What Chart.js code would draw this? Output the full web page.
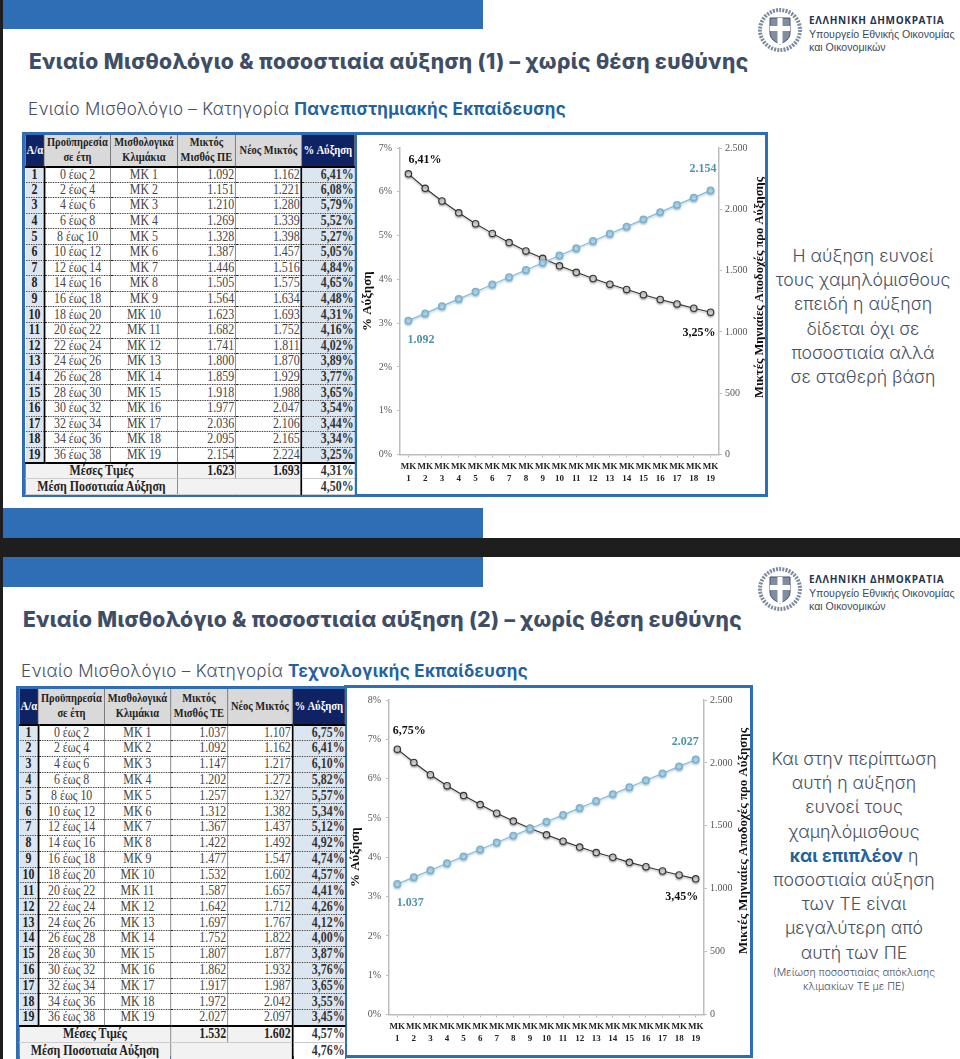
<!DOCTYPE html>
<html lang="el">
<head>
<meta charset="utf-8">
<script src="https://cdn.jsdelivr.net/npm/chart.js@4"></script>
<style>
html,body{margin:0;padding:0;background:#fff;width:960px;height:1059px;overflow:hidden}
body{position:relative;font-family:Inter,"Noto Sans",sans-serif}
.abs{position:absolute}
.bar{position:absolute;background:#2f6db5}
.title{position:absolute;font:800 21px/26px Inter,sans-serif;color:#3e4e66;white-space:nowrap}
.sub{position:absolute;font:300 17px/22px Inter,sans-serif;color:#46505f;white-space:nowrap}
.sub b{font-weight:700;color:#23619f}
.side{position:absolute;font:300 17.7px/24.2px Inter,sans-serif;color:#48525f;text-align:center;white-space:nowrap;transform:translateX(-50%)}
.side b{font-weight:700;color:#23619f}
.side small{display:block;font-size:10.5px;line-height:14px;margin-top:1px}
.box{position:absolute;box-sizing:border-box;border:3px solid #2f6db5;background:#fff}
table{position:absolute;border-collapse:collapse;table-layout:fixed;font:14px/1 "Liberation Serif",serif;color:#444;transform:scaleX(.85);transform-origin:0 0}
td,th{padding:0;overflow:hidden;white-space:nowrap}
th{font-weight:700;font-size:12.3px;line-height:15px;background:#d9d9d9;color:#222;border-left:1px solid #666;border-right:1px solid #666;border-bottom:2px solid #000}
th.dk{background:#0f2263;color:#fff;font-size:12.6px}
td{border-bottom:1px dotted #222;border-left:1px solid #777;border-right:1px solid #777;text-align:center}
td.n{text-align:right;padding-right:1px}
td.a{background:#dce6f1;font-weight:700;border-left:none;border-right:2px solid #000;color:#222}
td.p{background:#dce6f1;font-weight:700;text-align:right;padding-right:1px;border-left:2px solid #000;border-right:none;color:#333}
tr.last td{border-bottom:2px solid #000}
tr.sum td{background:#f2f2f2;font-weight:700;border-bottom:1px solid #ccc;color:#222}
tr.sum td.p{background:#fff;font-weight:700;color:#333}
canvas{position:absolute;display:block}
.logo{position:absolute;width:200px;height:48px}
.logo .h{position:absolute;left:52px;top:1px;font:700 10px/12px "Open Sans",sans-serif;letter-spacing:.7px;color:#1f3550;white-space:nowrap}
.logo .m{position:absolute;left:52px;top:15px;font:400 10.6px/12.5px "Liberation Sans",sans-serif;color:#3c4a5c;white-space:nowrap}
.logo svg{position:absolute;left:0;top:-6px}
</style>
</head>
<body>
<div class="abs" style="left:0;top:0;width:3px;height:1059px;background:#1e1e1e"></div>
<div class="bar" style="left:3px;top:0;width:480px;height:29px"></div>
<div class="bar" style="left:3px;top:508px;width:480px;height:30px"></div>
<div class="abs" style="left:0;top:538px;width:960px;height:19px;background:#1e1e1e"></div>
<div class="bar" style="left:3px;top:557px;width:480px;height:30px"></div>

<div class="title" data-w="719" style="left:29px;top:49px">Ενιαίο Μισθολόγιο &amp; ποσοστιαία αύξηση (1) – χωρίς θέση ευθύνης</div>
<div class="sub" data-w="538" style="left:28px;top:98px">Ενιαίο Μισθολόγιο – Κατηγορία <b>Πανεπιστημιακής Εκπαίδευσης</b></div>
<div class="title" data-w="719" style="left:23px;top:607px">Ενιαίο Μισθολόγιο &amp; ποσοστιαία αύξηση (2) – χωρίς θέση ευθύνης</div>
<div class="sub" data-w="507" style="left:21px;top:660px">Ενιαίο Μισθολόγιο – Κατηγορία <b>Τεχνολογικής Εκπαίδευσης</b></div>

<div class="logo" style="left:757px;top:13px" id="logo1"></div>
<div class="logo" style="left:757px;top:572px" id="logo2"></div>

<div class="box" style="left:22px;top:132px;width:334px;height:365px"></div>
<div class="box" style="left:354px;top:132px;width:414px;height:365px"></div>
<div class="box" style="left:16px;top:686px;width:330px;height:373px"></div>
<div class="box" style="left:344px;top:685px;width:409px;height:373px"></div>

<table id="t1" style="left:25px;top:135px"></table>
<table id="t2" style="left:19px;top:689px"></table>

<canvas id="c1" width="407" height="359" style="left:358px;top:135px"></canvas>
<canvas id="c2" width="402" height="368" style="left:348px;top:688px"></canvas>

<div class="side" style="left:863px;top:244px">Η αύξηση ευνοεί<br>τους χαμηλόμισθους<br>επειδή η αύξηση<br>δίδεται όχι σε<br>ποσοστιαία αλλά<br>σε σταθερή βάση</div>
<div class="side" style="left:854px;top:747px">Και στην περίπτωση<br>αυτή η αύξηση<br>ευνοεί τους<br>χαμηλόμισθους<br><b>και επιπλέον</b> η<br>ποσοστιαία αύξηση<br>των ΤΕ είναι<br>μεγαλύτερη από<br>αυτή των ΠΕ<small>(Μείωση ποσοστιαίας απόκλισης<br>κλιμακίων ΤΕ με ΠΕ)</small></div>

<script>
const categories = [["ΜΚ","1"],["ΜΚ","2"],["ΜΚ","3"],["ΜΚ","4"],["ΜΚ","5"],["ΜΚ","6"],["ΜΚ","7"],["ΜΚ","8"],["ΜΚ","9"],["ΜΚ","10"],["ΜΚ","11"],["ΜΚ","12"],["ΜΚ","13"],["ΜΚ","14"],["ΜΚ","15"],["ΜΚ","16"],["ΜΚ","17"],["ΜΚ","18"],["ΜΚ","19"]];
const serviceYears = ["0 έως 2","2 έως 4","4 έως 6","6 έως 8","8 έως 10","10 έως 12","12 έως 14","14 έως 16","16 έως 18","18 έως 20","20 έως 22","22 έως 24","24 έως 26","26 έως 28","28 έως 30","30 έως 32","32 έως 34","34 έως 36","36 έως 38"];

const salaryPE = [1092,1151,1210,1269,1328,1387,1446,1505,1564,1623,1682,1741,1800,1859,1918,1977,2036,2095,2154];
const newSalaryPE = [1162,1221,1280,1339,1398,1457,1516,1575,1634,1693,1752,1811,1870,1929,1988,2047,2106,2165,2224];
const raisePE = [6.41,6.08,5.79,5.52,5.27,5.05,4.84,4.65,4.48,4.31,4.16,4.02,3.89,3.77,3.65,3.54,3.44,3.34,3.25];

const salaryTE = [1037,1092,1147,1202,1257,1312,1367,1422,1477,1532,1587,1642,1697,1752,1807,1862,1917,1972,2027];
const newSalaryTE = [1107,1162,1217,1272,1327,1382,1437,1492,1547,1602,1657,1712,1767,1822,1877,1932,1987,2042,2097];
const raiseTE = [6.75,6.41,6.10,5.82,5.57,5.34,5.12,4.92,4.74,4.57,4.41,4.26,4.12,4.00,3.87,3.76,3.65,3.55,3.45];

const th = v => String(v).replace(/\B(?=(\d{3})+$)/g, '.');
const pc = v => v.toFixed(2).replace('.', ',') + '%';

function buildTable(id, cols, headH, rowH, sumH, salaryHead, sal, nw, rs, avg, avgRaise) {
  const sx = 0.85, t = document.getElementById(id);
  t.style.width = (cols.reduce((a, b) => a + b, 0) / sx) + 'px';
  let h = '<colgroup>' + cols.map(c => `<col style="width:${c / sx}px">`).join('') + '</colgroup>';
  h += `<tr style="height:${headH}px"><th class="dk">Α/α</th><th>Προϋπηρεσία<br>σε έτη</th><th>Μισθολογικά<br>Κλιμάκια</th><th>Μικτός<br>Μισθός ${salaryHead}</th><th>Νέος Μικτός</th><th class="dk">% Αύξηση</th></tr>`;
  sal.forEach((s, i) => {
    h += `<tr style="height:${rowH}px" class="${i === 18 ? 'last' : ''}"><td class="a">${i + 1}</td><td>${serviceYears[i]}</td><td>ΜΚ ${i + 1}</td><td class="n">${th(s)}</td><td class="n">${th(nw[i])}</td><td class="p">${pc(rs[i])}</td></tr>`;
  });
  h += `<tr class="sum" style="height:${sumH}px"><td colspan="3">Μέσες Τιμές</td><td class="n">${th(avg[0])}</td><td class="n">${th(avg[1])}</td><td class="p">${pc(avg[2])}</td></tr>`;
  h += `<tr class="sum" style="height:${sumH}px"><td colspan="3">Μέση Ποσοτιαία Αύξηση</td><td colspan="2"></td><td class="p">${pc(avgRaise)}</td></tr>`;
  t.innerHTML = h;
}
buildTable('t1', [19,66,67,58,66,53], 31.5, 15.6, 16, 'ΠΕ', salaryPE, newSalaryPE, raisePE, [1623,1693,4.31], 4.50);
buildTable('t2', [19,66,66,57,65,53], 35.5, 15.85, 17, 'ΤΕ', salaryTE, newSalaryTE, raiseTE, [1532,1602,4.57], 4.76);

const LOGO = `<svg width="46" height="46" viewBox="0 0 46 46"><circle cx="23" cy="23" r="20" fill="none" stroke="#7d8ba0" stroke-width="4" stroke-dasharray="2 1.2"/><path d="M13 11h20v15c0 6-5 9-10 11-5-2-10-5-10-11z" fill="#7f8ea3" stroke="#3f5068"/><rect x="20.5" y="11" width="5" height="26" fill="#fff"/><rect x="13" y="19" width="20" height="5" fill="#fff"/></svg><div class="h">ΕΛΛΗΝΙΚΗ ΔΗΜΟΚΡΑΤΙΑ</div><div class="m">Υπουργείο Εθνικής Οικονομίας<br>και Οικονομικών</div>`;
document.getElementById('logo1').innerHTML = LOGO;
document.getElementById('logo2').innerHTML = LOGO;

document.fonts.ready.then(() => {
  document.querySelectorAll('[data-w]').forEach(el => {
    const n = el.textContent.length, w = el.getBoundingClientRect().width;
    el.style.letterSpacing = ((+el.dataset.w - w) / n).toFixed(3) + 'px';
  });
});

Chart.defaults.font.family = '"Liberation Serif", serif';
Chart.defaults.animation = false;

const shadowPlugin = {
  id: 'lineShadow',
  beforeDatasetDraw(c, a) { c.ctx.save(); c.ctx.shadowColor = a.index === 0 ? 'rgba(120,170,200,.55)' : 'rgba(0,0,0,.3)'; c.ctx.shadowBlur = 2; c.ctx.shadowOffsetY = 1.5; },
  afterDatasetDraw(c) { c.ctx.restore(); }
};
const notePlugin = {
  id: 'notes',
  afterDatasetsDraw(c, _, o) {
    const ctx = c.ctx, last = categories.length - 1;
    ctx.save();
    ctx.font = 'bold 12px "Liberation Serif", serif';
    ctx.textBaseline = 'middle';
    o.labels.forEach(l => {
      const el = c.getDatasetMeta(l.ds).data[l.i];
      ctx.fillStyle = l.color; ctx.textAlign = l.i === last ? 'right' : 'left';
      ctx.fillText(l.text, el.x + l.dx, el.y + l.dy);
    });
    ctx.translate(o.right.x, o.right.y);
    ctx.rotate(-Math.PI / 2);
    ctx.font = 'bold ' + o.right.size + 'px "Liberation Serif", serif';
    ctx.fillStyle = '#111'; ctx.textAlign = 'center';
    ctx.fillText(o.right.text, 0, 0);
    ctx.restore();
  }
};

function makeChart(id, rs, sal, leftMax, geo, notes) {
  new Chart(document.getElementById(id), {
    type: 'line',
    data: { labels: categories, datasets: [
      { label: 'Μικτές Μηνιαίες Αποδοχές προ Αύξησης', data: sal, yAxisID: 'y1', borderColor: '#86bcd8', borderWidth: 1.2, pointRadius: 3.2, pointBackgroundColor: '#b3d4e6', pointBorderColor: '#7fb0cb', pointBorderWidth: 1.5, tension: 0 },
      { label: '% Αύξηση', data: rs, yAxisID: 'y', borderColor: '#333', borderWidth: 1.1, pointRadius: 3.2, pointBackgroundColor: '#d2d2d2', pointBorderColor: '#333', pointBorderWidth: 1.1, tension: 0 }
    ] },
    plugins: [shadowPlugin, notePlugin],
    options: {
      responsive: false, maintainAspectRatio: false,
      layout: { padding: { top: geo.top, left: 0, right: 0, bottom: 0 } },
      plugins: { legend: { display: false }, tooltip: { enabled: false }, notes },
      scales: {
        x: { offset: true, afterFit: s => { s.height = geo.bottom; },
          border: { color: '#bdbdbd', width: 1.5 },
          grid: { drawOnChartArea: false, tickLength: 3, color: '#bdbdbd' },
          ticks: { autoSkip: false, maxRotation: 0, minRotation: 0, padding: 3, color: '#222', font: { size: 9, weight: 'bold', lineHeight: 1.33 } } },
        y: { position: 'left', min: 0, max: leftMax, afterFit: s => { s.width = geo.left; },
          border: { color: '#bdbdbd', width: 1.5 },
          grid: { drawOnChartArea: false, tickLength: 3, color: '#bdbdbd' },
          title: { display: true, text: '% Αύξηση', color: '#111', padding: { top: geo.titlePad, bottom: 0 }, font: { size: 13, weight: 'bold', lineHeight: 1.1 } },
          ticks: { stepSize: 1, padding: 5, color: '#555', font: { size: 10 }, callback: v => v + '%' } },
        y1: { position: 'right', min: 0, max: 2500, afterFit: s => { s.width = geo.right; },
          border: { color: '#bdbdbd', width: 1.5 },
          grid: { drawOnChartArea: false, tickLength: 3, color: '#bdbdbd' },
          ticks: { stepSize: 500, padding: 3, color: '#555', font: { size: 10 }, callback: v => th(v) } }
      }
    }
  });
}
const BLACK = '#111', TEAL = '#4f93ad';
makeChart('c1', raisePE, salaryPE, 7, { top: 13, left: 42, right: 46, bottom: 39.5, titlePad: 2 }, {
  labels: [
    { ds: 1, i: 0, text: pc(raisePE[0]), color: BLACK, dx: 0, dy: -14 },
    { ds: 1, i: 18, text: pc(raisePE[18]), color: BLACK, dx: 5, dy: 21 },
    { ds: 0, i: 0, text: th(salaryPE[0]), color: TEAL, dx: -1, dy: 19 },
    { ds: 0, i: 18, text: th(salaryPE[18]), color: TEAL, dx: 6, dy: -22 }
  ],
  right: { text: 'Μικτές Μηνιαίες Αποδοχές προ Αύξησης', x: 402, y: 152.5, size: 12.6 }
});
makeChart('c2', raiseTE, salaryTE, 8, { top: 12, left: 41, right: 46, bottom: 41.5, titlePad: 0 }, {
  labels: [
    { ds: 1, i: 0, text: pc(raiseTE[0]), color: BLACK, dx: -4.5, dy: -18 },
    { ds: 1, i: 18, text: pc(raiseTE[18]), color: BLACK, dx: 2.5, dy: 18 },
    { ds: 0, i: 0, text: th(salaryTE[0]), color: TEAL, dx: -0.5, dy: 19 },
    { ds: 0, i: 18, text: th(salaryTE[18]), color: TEAL, dx: 3, dy: -18 }
  ],
  right: { text: 'Μικτές Μηνιαίες Αποδοχές προ Αύξησης', x: 396, y: 153, size: 12.9 }
});
</script>
</body>
</html>
